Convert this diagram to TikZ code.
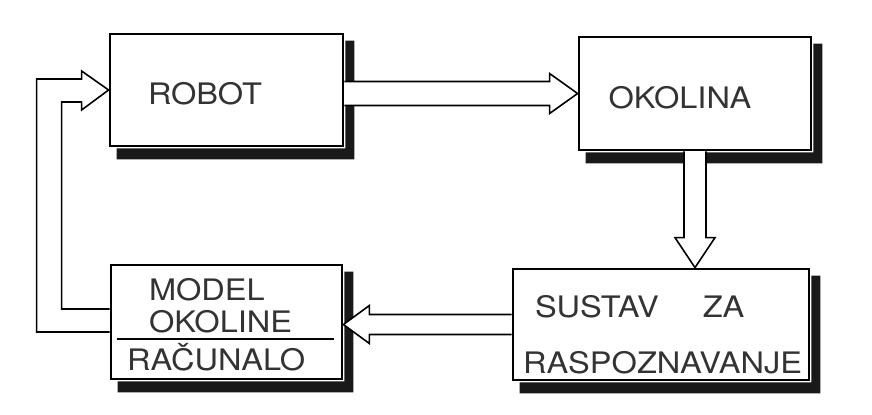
\documentclass[tikz,border=0pt]{standalone}
\usepackage{fontspec}
\usepackage{tikz}
\usetikzlibrary{calc}
\newfontfamily\boxfont[FakeStretch=1.1]{TeX Gyre Heros}

\begin{document}
\begin{tikzpicture}[x=0.5pt,y=-0.5pt,
  block/.style={draw,line width=1.4pt,fill=white},
  boxshadow/.style={fill=black!90},
  lbl/.style={font=\boxfont\fontsize{14.8}{15.5}\selectfont,text=black!80,inner sep=0pt},
  hollow/.style={draw,fill=white,line width=0.8pt,line join=miter}]
\useasboundingbox (0,0) rectangle (872,414);

% blocks
\node[block,minimum width=116.5pt,minimum height=56pt] (robot) at (226.5,90) {};
\node[block,minimum width=116pt,minimum height=56.5pt] (okolina) at (695,93.5) {};
\node[block,minimum width=148pt,minimum height=55.5pt] (sustav) at (661,324.5) {};
\node[block,minimum width=115.5pt,minimum height=57pt] (model) at (226.5,322) {};
% shadows (L-shaped, right and bottom)
\foreach \blk in {robot,okolina,sustav,model}
  \fill[boxshadow] ($(\blk.north east)+(1,8)$) -- ($(\blk.north east)+(10,8)$)
    -- ($(\blk.south east)+(10,12)$) -- ($(\blk.south west)+(8,12)$)
    -- ($(\blk.south west)+(8,1)$) -- ($(\blk.south east)+(1,1)$) -- cycle;

% labels
\node[lbl,anchor=base] (robottxt) at ($(robot.center)+(-21.5,14)$) {ROBOT};
\node[lbl,anchor=base] (okolinatxt) at ($(okolina.center)+(-15,14.5)$) {OKOLINA};
\node[lbl,anchor=base west] (sustavtxt) at ($(sustav.west)+(23,-7.5)$) {SUSTAV\hspace{22pt}ZA};
\node[lbl,anchor=base west] (raspoztxt) at ($(sustav.west)+(11,48.5)$) {RASPOZNAVANJE};
\node[lbl,anchor=base west] (modeltxt) at ($(model.west)+(39,-22)$) {MODEL};
\node[lbl,anchor=base west] (okolinetxt) at ($(model.west)+(39,10)$) {OKOLINE};
\node[lbl,anchor=base west] (racunalotxt) at ($(model.west)+(17,48)$) {RAČUNALO};
\draw[line width=0.8pt] ($(model.west)+(7,17)$) -- ($(model.east)+(-9,17)$);

% hollow arrows
\path[hollow] ($(robot.east |- okolina.west)+(0,-12)$) -- ($(okolina.west)+(-28,-12)$)
  -- ++(0,-8) -- (okolina.west) -- ($(okolina.west)+(-28,20)$) -- ++(0,-8)
  -- ($(robot.east |- okolina.west)+(0,12)$);
\path[hollow] ($(okolina.south)+(-11,0)$) -- ($(okolina.south |- sustav.north)+(-11,-30)$)
  -- ++(-9,0) -- (okolina.south |- sustav.north) -- ($(okolina.south |- sustav.north)+(20,-30)$)
  -- ++(-9,0) -- ($(okolina.south)+(11,0)$);
\path[hollow] ($(sustav.west)+(0,-10)$) -- ($(model.east |- sustav.west)+(26,-10)$)
  -- ++(0,-9) -- (model.east |- sustav.west) -- ($(model.east |- sustav.west)+(26,19)$)
  -- ++(0,-9) -- ($(sustav.west)+(0,10)$);
% feedback from model to robot
\draw[line width=0.8pt,line join=miter] ($(model.west)+(0,10)$) -- ($(model.west)+(-73,10)$)
  |- ($(robot.west)+(-27,-11)$) -- ++(0,-8) -- (robot.west) -- ($(robot.west)+(-27,20)$)
  -- ++(0,-8) -| ($(model.west)+(-48,-13)$) -- ($(model.west)+(0,-13)$);
\end{tikzpicture}
\end{document}
